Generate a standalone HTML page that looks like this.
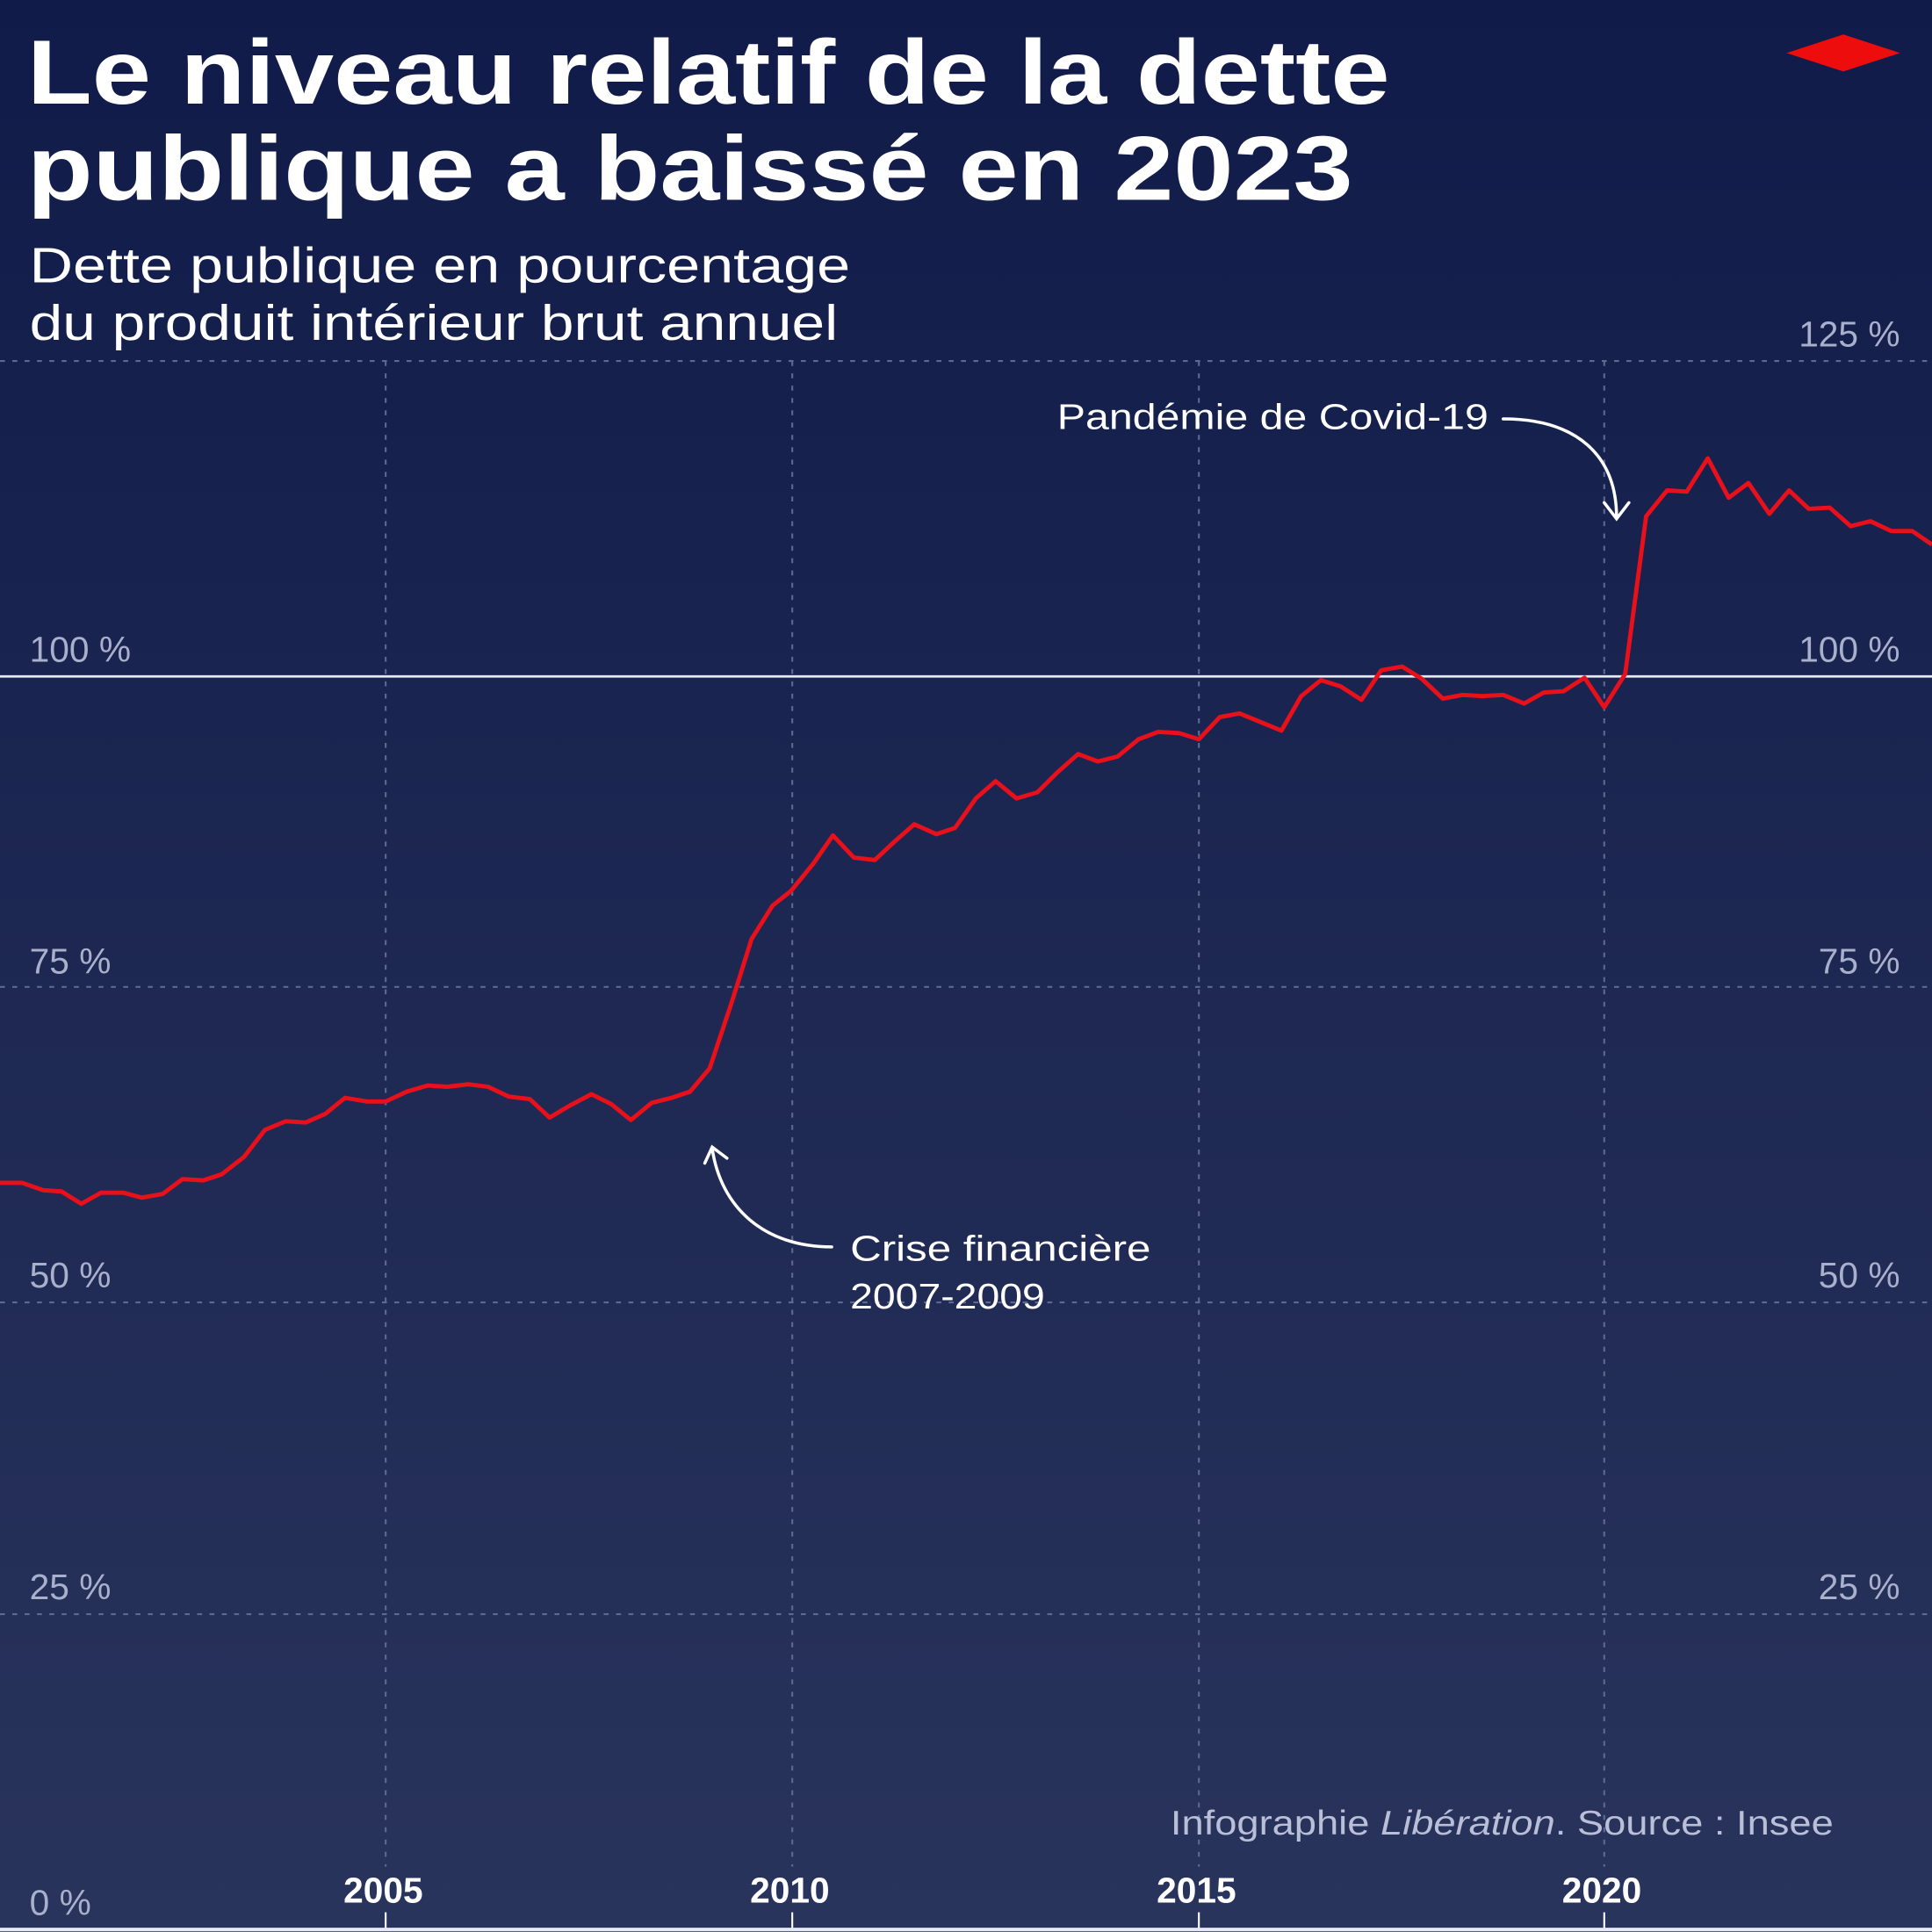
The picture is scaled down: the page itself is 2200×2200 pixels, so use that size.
<!DOCTYPE html>
<html><head><meta charset="utf-8"><style>
html,body{margin:0;padding:0;width:2200px;height:2200px;overflow:hidden;background:#141e4b}
svg{display:block}
</style></head><body>
<svg width="2200" height="2200" viewBox="0 0 1568 1568" xmlns="http://www.w3.org/2000/svg">
<defs><linearGradient id="bg" x1="0" y1="0" x2="0" y2="1"><stop offset="0" stop-color="#111b49"/><stop offset="1" stop-color="#29345c"/></linearGradient></defs>
<rect width="1568" height="1568" fill="url(#bg)"/>
<polygon points="1450,43 1496,28 1542,43 1496,58" fill="#ee0d0d"/>
<g font-family="Liberation Sans, sans-serif" font-weight="bold" fill="#fff">
<text x="22" y="84" font-size="74" textLength="1106" lengthAdjust="spacingAndGlyphs">Le niveau relatif de la dette</text>
<text x="22" y="162" font-size="74" textLength="1076" lengthAdjust="spacingAndGlyphs">publique a baissé en 2023</text>
</g>
<g font-family="Liberation Sans, sans-serif" fill="#fff">
<text x="24" y="229" font-size="40" textLength="666" lengthAdjust="spacingAndGlyphs">Dette publique en pourcentage</text>
<text x="24" y="276" font-size="40" textLength="656" lengthAdjust="spacingAndGlyphs">du produit intérieur brut annuel</text>
</g>
<g stroke="#5f6890" stroke-width="1.5" stroke-dasharray="4,6">
<line x1="0" y1="293" x2="1568" y2="293"/>
<line x1="0" y1="801" x2="1568" y2="801"/>
<line x1="0" y1="1057" x2="1568" y2="1057"/>
<line x1="0" y1="1310" x2="1568" y2="1310"/>
<line x1="313" y1="293" x2="313" y2="1515"/>
<line x1="643" y1="293" x2="643" y2="1515"/>
<line x1="973" y1="293" x2="973" y2="1515"/>
<line x1="1302" y1="293" x2="1302" y2="1515"/>
</g>
<g stroke="#fff" stroke-width="1.5">
<line x1="313" y1="1552" x2="313" y2="1566"/><line x1="643" y1="1552" x2="643" y2="1566"/><line x1="973" y1="1552" x2="973" y2="1566"/><line x1="1302" y1="1552" x2="1302" y2="1566"/>
</g>
<line x1="0" y1="549" x2="1568" y2="549" stroke="#e6e8f4" stroke-width="2"/>
<line x1="0" y1="1566" x2="1568" y2="1566" stroke="#e6e8f4" stroke-width="3"/>
<g font-family="Liberation Sans, sans-serif" font-size="29" fill="#a9b0cc">
<text x="1542" y="281" text-anchor="end">125 %</text>
<text x="24" y="537">100 %</text><text x="1542" y="537" text-anchor="end">100 %</text>
<text x="24" y="790">75 %</text><text x="1542" y="790" text-anchor="end">75 %</text>
<text x="24" y="1045">50 %</text><text x="1542" y="1045" text-anchor="end">50 %</text>
<text x="24" y="1298">25 %</text><text x="1542" y="1298" text-anchor="end">25 %</text>
<text x="24" y="1554">0 %</text>
</g>
<g font-family="Liberation Sans, sans-serif" font-size="29" font-weight="bold" fill="#fff" text-anchor="middle">
<text x="311" y="1544">2005</text><text x="641" y="1544">2010</text><text x="971" y="1544">2015</text><text x="1300" y="1544">2020</text>
</g>
<text x="950" y="1489" textLength="538" lengthAdjust="spacingAndGlyphs" font-family="Liberation Sans, sans-serif" font-size="28" fill="#b8bfd6">Infographie <tspan font-style="italic">Libération</tspan>. Source : Insee</text>
<polyline fill="none" stroke="#e8101a" stroke-width="3.5" stroke-linejoin="round" points="0,960 18,960 35,966 50,967 66,977 82,968 100,968 115,972 132,969 148,957 165,958 180,953 198,939 215,917 232,910 248,911 264,904 280,891 298,894 313,894 330,886 347,881 363,882 380,880 396,882 413,890 430,892 446,907 463,897 480,888 496,896 512,909 529,895 545,891 560,886 576,867 594,813 610,762 627,735 642,723 660,701 676,678 693,696 710,698 726,683 742,669 760,677 775,672 792,648 808,634 825,648 842,643 858,627 875,612 891,618 907,614 924,600 940,594 957,595 973,600 990,582 1006,579 1023,586 1040,593 1056,565 1072,552 1088,557 1105,568 1121,544 1138,541 1154,551 1171,567 1187,564 1203,565 1220,564 1237,571 1253,562 1269,561 1286,550 1302,574 1319,547 1336,419 1353,398 1369,399 1386,372 1403,404 1419,392 1436,417 1452,398 1468,413 1485,412 1502,427 1518,423 1535,431 1552,431 1568,442"/>
<g font-family="Liberation Sans, sans-serif" font-size="29" fill="#fff">
<text x="858" y="348" textLength="350" lengthAdjust="spacingAndGlyphs">Pandémie de Covid-19</text>
<text x="690" y="1023" textLength="244" lengthAdjust="spacingAndGlyphs">Crise financière</text>
<text x="690" y="1062" textLength="158" lengthAdjust="spacingAndGlyphs">2007-2009</text>
</g>
<g fill="none" stroke="#fff" stroke-width="2.5" stroke-linecap="round">
<path d="M1220,340 C1280,340 1312,370 1312,420"/>
<path d="M1302,408 L1312,421 L1322,408"/>
<path d="M675,1012 C620,1012 585,980 578,932"/>
<path d="M572,944 L578,931 L590,940"/>
</g>
</svg>
</body></html>
